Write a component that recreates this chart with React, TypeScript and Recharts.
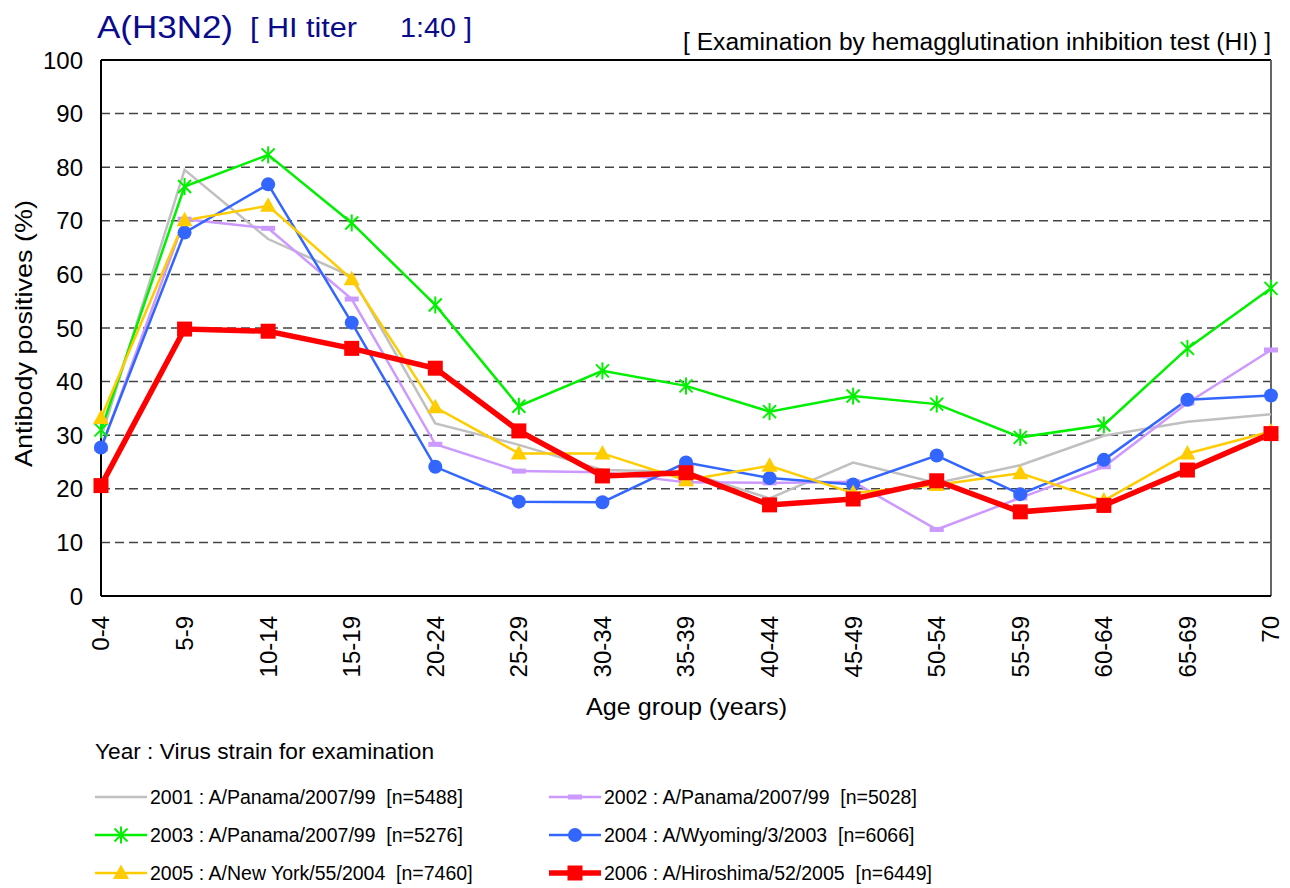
import { CartesianGrid, Line, LineChart, ReferenceLine, XAxis, YAxis } from 'recharts'

const ageGroups = ['0-4', '5-9', '10-14', '15-19', '20-24', '25-29', '30-34', '35-39', '40-44', '45-49', '50-54', '55-59', '60-64', '65-69', '70']

const y2001 = [29.5, 79.5, 66.6, 59.6, 32.2, 28.2, 23.5, 23.2, 18.2, 24.9, 21.1, 24.4, 29.9, 32.5, 33.9]
const y2002 = [27.4, 70.3, 68.6, 55.4, 28.3, 23.3, 23.1, 21.2, 21.1, 21.3, 12.4, 18.3, 24.1, 36.0, 45.9]
const y2003 = [31.0, 76.4, 82.3, 69.6, 54.3, 35.4, 42.0, 39.2, 34.4, 37.3, 35.8, 29.6, 31.9, 46.2, 57.4]
const y2004 = [27.7, 67.8, 76.8, 51.0, 24.1, 17.6, 17.5, 24.9, 22.0, 20.8, 26.2, 19.0, 25.4, 36.6, 37.4]
const y2005 = [33.2, 70.1, 72.8, 59.1, 35.2, 26.6, 26.6, 21.6, 24.3, 19.2, 20.7, 22.9, 17.8, 26.6, 30.7]
const y2006 = [20.6, 49.8, 49.4, 46.2, 42.5, 30.8, 22.4, 23.0, 17.0, 18.1, 21.5, 15.7, 16.9, 23.5, 30.3]

const yTicks = [0, 10, 20, 30, 40, 50, 60, 70, 80, 90, 100]

type MarkerKind = 'none' | 'dash' | 'star' | 'circle' | 'triangle' | 'square'

interface SeriesDef {
  key: string
  label: string
  values: number[]
  color: string
  width: number
  marker: MarkerKind
}

const series: SeriesDef[] = [
  { key: 'y2001', label: '2001 : A/Panama/2007/99  [n=5488]', values: y2001, color: '#C0C0C0', width: 2.5, marker: 'none' },
  { key: 'y2002', label: '2002 : A/Panama/2007/99  [n=5028]', values: y2002, color: '#CC99FF', width: 2.5, marker: 'dash' },
  { key: 'y2003', label: '2003 : A/Panama/2007/99  [n=5276]', values: y2003, color: '#00F000', width: 2.5, marker: 'star' },
  { key: 'y2004', label: '2004 : A/Wyoming/3/2003  [n=6066]', values: y2004, color: '#3366FF', width: 2.5, marker: 'circle' },
  { key: 'y2005', label: '2005 : A/New York/55/2004  [n=7460]', values: y2005, color: '#FFCC00', width: 2.5, marker: 'triangle' },
  { key: 'y2006', label: '2006 : A/Hiroshima/52/2005  [n=6449]', values: y2006, color: '#FF0000', width: 5.5, marker: 'square' },
]

const data = ageGroups.map((age, i) => {
  const row: Record<string, string | number> = { age }
  for (const s of series) row[s.key] = s.values[i]
  return row
})

const NAVY = '#0A0A8C'

function Marker({ kind, cx, cy, color }: { kind: MarkerKind; cx: number; cy: number; color: string }) {
  if (kind === 'dash') return <rect x={cx - 7} y={cy - 2.5} width={14} height={5} fill={color} />
  if (kind === 'circle') return <circle cx={cx} cy={cy} r={7} fill={color} />
  if (kind === 'square') return <rect x={cx - 7.5} y={cy - 7.5} width={15} height={15} fill={color} />
  if (kind === 'triangle')
    return <path d={`M${cx},${cy - 8.5} L${cx + 8},${cy + 6} L${cx - 8},${cy + 6} Z`} fill={color} />
  if (kind === 'star')
    return (
      <g stroke={color} strokeWidth={2}>
        <line x1={cx - 6.5} y1={cy - 6.5} x2={cx + 6.5} y2={cy + 6.5} />
        <line x1={cx - 6.5} y1={cy + 6.5} x2={cx + 6.5} y2={cy - 6.5} />
        <line x1={cx} y1={cy - 8.5} x2={cx} y2={cy + 8.5} />
      </g>
    )
  return null
}

function AgeTick(props: any) {
  const { x, y, payload } = props
  return (
    <g transform={`translate(${x},${y + 20})`}>
      <text x={0} y={0} dy="0.35em" transform="rotate(-90)" textAnchor="end" fontSize={24} fill="#000">
        {payload.value}
      </text>
    </g>
  )
}

// legend slots: two columns, three rows
const legendCols = [95, 549]
const legendRows = [797, 835, 873]

export default function App() {
  return (
    <div
      style={{
        position: 'absolute',
        left: 0,
        top: 0,
        width: 1290,
        height: 888,
        background: '#fff',
        fontFamily: "'Liberation Sans', Arial, sans-serif",
      }}
    >
      <LineChart width={1290} height={888} data={data} margin={{ top: 60, right: 19, left: 41, bottom: 232 }}>
        <CartesianGrid vertical={false} stroke="#444" strokeWidth={1.5} strokeDasharray="9 5" />
        <XAxis
          dataKey="age"
          interval={0}
          height={60}
          tickLine={false}
          tickSize={0}
          tickMargin={0}
          axisLine={{ stroke: '#000', strokeWidth: 2 }}
          tick={<AgeTick />}
        />
        <YAxis
          type="number"
          domain={[0, 100]}
          ticks={yTicks}
          interval={0}
          width={60}
          tickLine={false}
          tickSize={0}
          tickMargin={18}
          axisLine={{ stroke: '#000', strokeWidth: 2 }}
          tick={{ fill: '#000', fontSize: 24 }}
        />
        <ReferenceLine y={100} stroke="#000" strokeWidth={2} />
        <ReferenceLine x="70" stroke="#666" strokeWidth={2} />
        {series.map((s) => (
          <Line
            key={s.key}
            type="linear"
            dataKey={s.key}
            stroke={s.color}
            strokeWidth={s.width}
            isAnimationActive={false}
            dot={
              s.marker === 'none'
                ? false
                : (p: any) => <Marker key={`${s.key}-${p.index}`} kind={s.marker} cx={p.cx} cy={p.cy} color={s.color} />
            }
            activeDot={false}
          />
        ))}
      </LineChart>

      <svg
        width={1290}
        height={888}
        style={{ position: 'absolute', left: 0, top: 0, pointerEvents: 'none' }}
      >
        <text x={97} y={38} fontSize={32} fill={NAVY} textLength={136} lengthAdjust="spacingAndGlyphs">
          A(H3N2)
        </text>
        <text x={250} y={37} fontSize={27} fill={NAVY} textLength={107} lengthAdjust="spacingAndGlyphs">
          [ HI titer
        </text>
        <text x={400} y={37} fontSize={27} fill={NAVY} textLength={72} lengthAdjust="spacingAndGlyphs">
          1:40 ]
        </text>
        <text x={683} y={50} fontSize={23} fill="#000" textLength={588} lengthAdjust="spacingAndGlyphs">
          [ Examination by hemagglutination inhibition test (HI) ]
        </text>
        <text x={586} y={715} fontSize={24} fill="#000" textLength={201} lengthAdjust="spacingAndGlyphs">
          Age group (years)
        </text>
        <text
          transform="translate(32,467) rotate(-90)"
          fontSize={24}
          fill="#000"
          textLength={267}
          lengthAdjust="spacingAndGlyphs"
        >
          Antibody positives (%)
        </text>

        <text x={95} y={759} fontSize={22} fill="#000" textLength={339} lengthAdjust="spacingAndGlyphs">
          Year : Virus strain for examination
        </text>
        {series.map((s, i) => {
          const lx = legendCols[i % 2]
          const ly = legendRows[Math.floor(i / 2)]
          return (
            <g key={s.key}>
              <line x1={lx} y1={ly} x2={lx + 52} y2={ly} stroke={s.color} strokeWidth={s.width} />
              <Marker kind={s.marker} cx={lx + 26} cy={ly} color={s.color} />
              <text x={lx + 55} y={ly + 7} fontSize={19.5} fill="#000" style={{ whiteSpace: 'pre' }}>
                {s.label}
              </text>
            </g>
          )
        })}
      </svg>
    </div>
  )
}
